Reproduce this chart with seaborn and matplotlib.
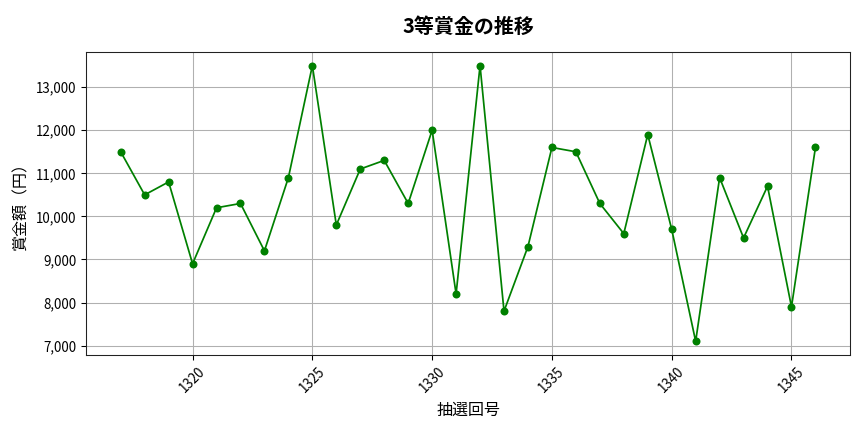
import matplotlib
matplotlib.use("Agg")
import matplotlib.pyplot as plt
import matplotlib.ticker as mticker
import seaborn as sns
import pandas as pd

# 抽選回号と3等賞金
draws = list(range(1317, 1347))
prizes = [11500, 10500, 10800, 8900, 10200, 10300, 9200, 10900, 13500, 9800,
          11100, 11300, 10300, 12000, 8200, 13500, 7800, 9300, 11600, 11500,
          10300, 9600, 11900, 9700, 7100, 10900, 9500, 10700, 7900, 11600]

sns.set_style("ticks")
plt.rcParams['font.family'] = ['Noto Sans CJK JP', 'DejaVu Sans']
plt.rcParams['text.color'] = 'black'
plt.rcParams['axes.labelcolor'] = 'black'
plt.rcParams['xtick.color'] = 'black'
plt.rcParams['ytick.color'] = 'black'

df = pd.DataFrame({'draw': draws, 'prize': prizes})

fig, ax = plt.subplots(figsize=(9, 4.5), dpi=96)
sns.lineplot(data=df, x='draw', y='prize', color='green', marker='o',
             markersize=6, markeredgewidth=0, linewidth=1.3, ax=ax)

ax.set_title('3等賞金の推移', fontsize=15, fontweight='bold', pad=14)
ax.set_xlabel('抽選回号', fontsize=12, labelpad=5)
ax.set_ylabel('賞金額（円）', fontsize=12, labelpad=5)
ax.yaxis.set_major_formatter(mticker.StrMethodFormatter('{x:,.0f}'))
ax.xaxis.set_major_locator(mticker.MultipleLocator(5))
ax.tick_params(axis='x', rotation=45, labelsize=10)
ax.tick_params(axis='y', labelsize=10)
ax.grid(True, color='#b0b0b0', linewidth=0.8)
for s in ax.spines.values():
    s.set_color('#222222')

plt.subplots_adjust(left=0.0995, right=0.984, top=0.88, bottom=0.178)
plt.savefig('out.png', dpi=96)
